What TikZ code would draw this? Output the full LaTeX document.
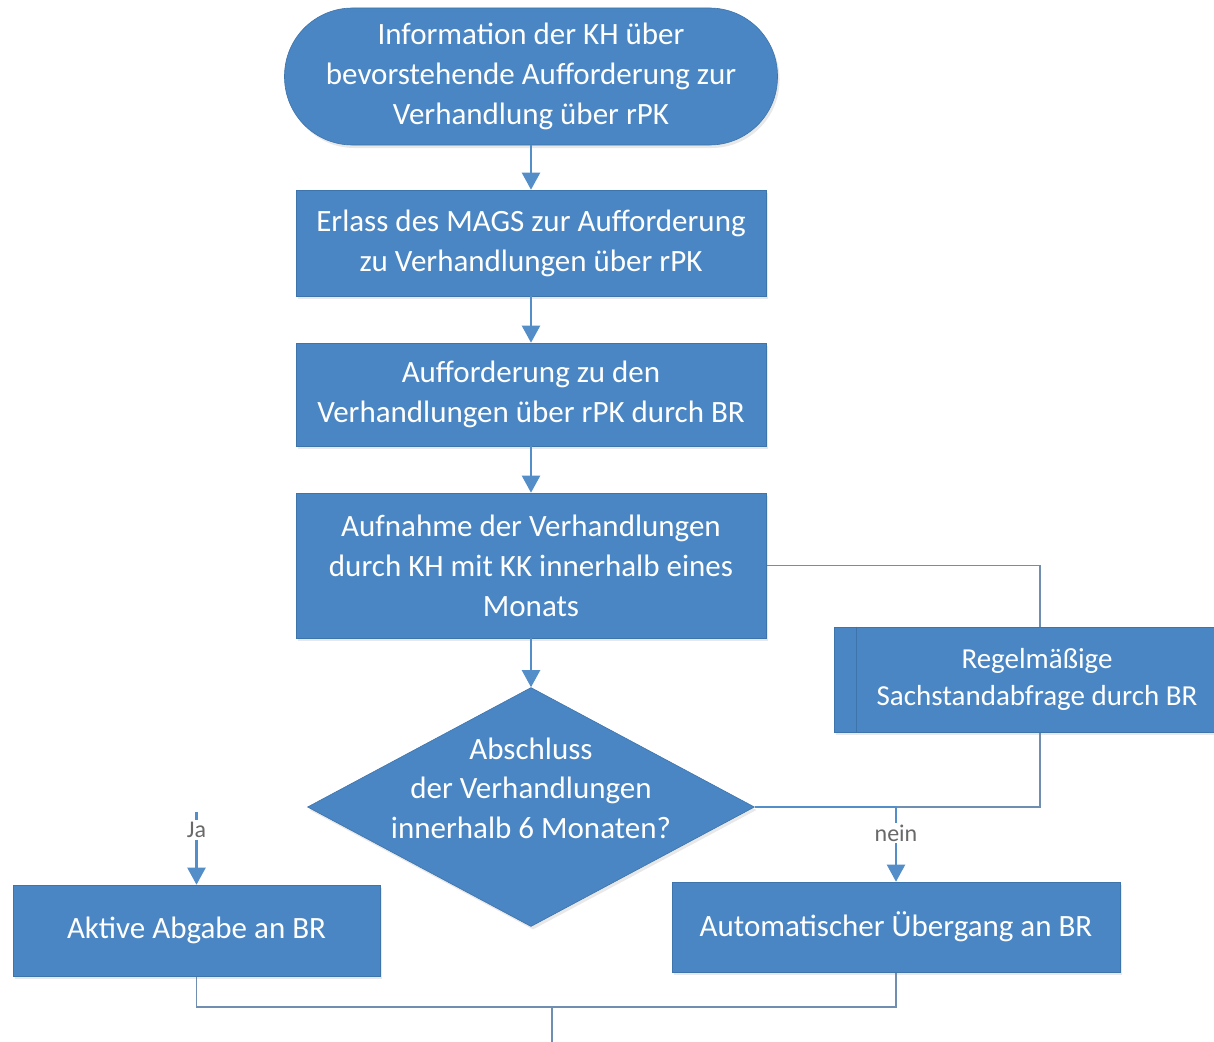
\documentclass[tikz,border=0pt]{standalone}
\usepackage{fontspec}
\setmainfont{Carlito}
\usetikzlibrary{shapes.geometric,arrows.meta,backgrounds,shadows}
\definecolor{boxblue}{RGB}{74,134,195}
\definecolor{boxedge}{RGB}{62,116,172}
\definecolor{arrowblue}{RGB}{84,142,200}
\definecolor{linegray}{RGB}{112,142,176}
\definecolor{lblgray}{RGB}{105,105,105}
\begin{document}
\begin{tikzpicture}[x=1pt,y=-1pt,
  shade/.style={drop shadow={opacity=0.18,shadow xshift=2pt,shadow yshift=-3pt}},
  box/.style={draw=boxedge, line width=0.6pt, fill=boxblue, text=white,
    font=\fontsize{31}{40}\selectfont, align=center, inner sep=0pt, shade},
  dshape/.style={diamond, draw=boxedge, line width=0.6pt, fill=boxblue, inner sep=0pt, shade},
  dtext/.style={text=white, font=\fontsize{31}{39.5}\selectfont, align=center, inner sep=0pt},
  arr/.style={draw=arrowblue, line width=2.2pt, -{Triangle[width=18pt,length=17pt]}},
  conn/.style={draw=linegray, line width=1.6pt},
  lbl/.style={text=lblgray, font=\fontsize{24}{26}\selectfont, fill=white, inner sep=2pt},
  barline/.style={draw=boxedge, line width=1pt}]

\useasboundingbox (0,0) rectangle (1214,1041);

% nodes
\node[box, rounded corners=68pt, minimum width=493pt, minimum height=137pt] (term) at (531,76.5)
  {Information der KH über\\bevorstehende Aufforderung zur\\Verhandlung über rPK};
\node[box, minimum width=470pt, minimum height=106pt] (b2) at (531,243)
  {Erlass des MAGS zur Aufforderung\\zu Verhandlungen über rPK};
\node[box, minimum width=470pt, minimum height=103pt] (b3) at (531,394.5)
  {Aufforderung zu den\\Verhandlungen über rPK durch BR};
\node[box, minimum width=470pt, minimum height=145pt] (b4) at (531,565.5)
  {Aufnahme der Verhandlungen\\durch KH mit KK innerhalb eines\\Monats};
\node[dshape, minimum width=447pt, minimum height=239pt] (dia) at (531,807) {};
\node[dtext] (diatext) at (531,788) {Abschluss\\der Verhandlungen\\innerhalb 6 Monaten?};
\node[box, minimum width=406pt, minimum height=105pt, font=\fontsize{29}{37}\selectfont] (regel) at (1037,679.5)
  {Regelmäßige\\Sachstandabfrage durch BR};
\draw[barline] ([xshift=23pt]regel.north west) -- ([xshift=23pt]regel.south west);
\node[box, minimum width=367pt, minimum height=91pt] (aktiv) at (196.5,930.5) {Aktive Abgabe an BR};
\node[box, minimum width=448pt, minimum height=90pt] (auto) at (896,927) {Automatischer Übergang an BR};

\coordinate (loopc) at (1040,807);
\coordinate (jastart) at (196.5,812);
\coordinate (join) at (552,1007);
\coordinate (down) at (552,1050);

\begin{scope}[on background layer]
  \draw[conn] (b4.east) -| (loopc) -- (dia.east);
  \draw[conn] (aktiv.south) |- (join);
  \draw[conn] (auto.south) |- (join);
  \draw[conn] (join) -- (down);
\end{scope}

% main arrows
\draw[arr] (term.south) -- (b2.north);
\draw[arr] (b2.south) -- (b3.north);
\draw[arr] (b3.south) -- (b4.north);
\draw[arr] (b4.south) -- (dia.north);

% decision branches
\draw[arr] (jastart) -- node[lbl, pos=0.25] {Ja} (aktiv.north);
\draw[arr] (dia.east) -| node[lbl, pos=0.673] {nein} (auto.north);
\end{tikzpicture}
\end{document}
